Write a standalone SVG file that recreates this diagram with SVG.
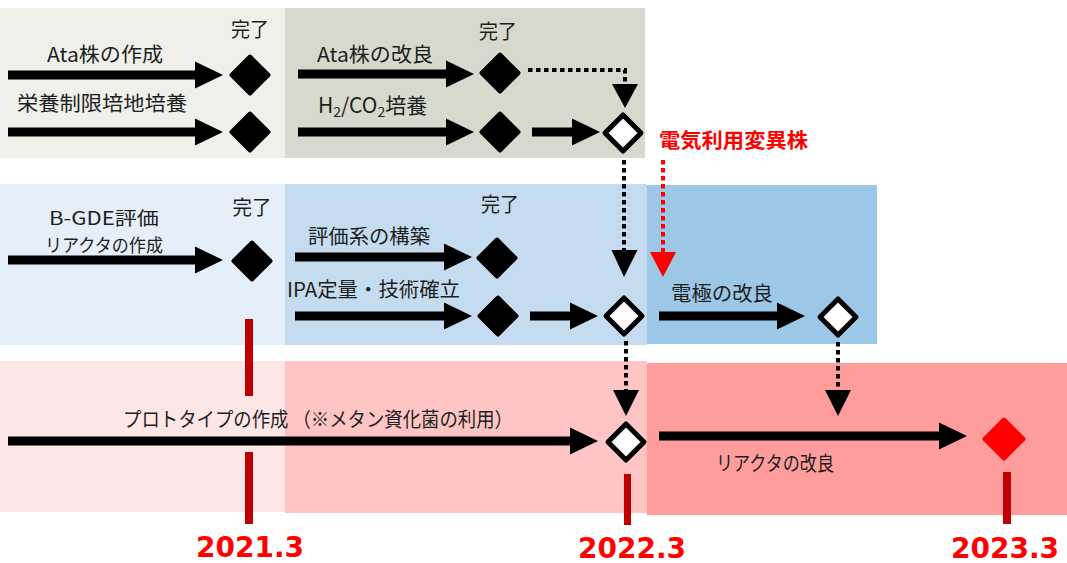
<svg xmlns="http://www.w3.org/2000/svg" width="1067" height="563" viewBox="0 0 1067 563">
<style>
.t{font-family:"Noto Sans CJK JP","Noto Sans",sans-serif;font-size:20px;fill:#1e1e1e;text-anchor:middle}
.yr{font-family:"DejaVu Sans",sans-serif;font-weight:bold;font-size:28px;fill:#ff0000;text-anchor:middle}
.arr{fill:#000}
.bd{fill:#000;stroke:#000;stroke-width:4;stroke-linejoin:round}
.wd{fill:#fff;stroke:#000;stroke-width:5;stroke-linejoin:round}
.dot{fill:none;stroke:#000;stroke-width:4;stroke-dasharray:4.5 3.5}
.bar{fill:#c00000}
</style>
<g id="panels">
<rect x="0" y="8" width="285" height="150" fill="#eef0e9"/>
<rect x="285" y="8" width="360" height="150" fill="#d6d9cb"/>
<rect x="0" y="184" width="285" height="161" fill="#e4eff9"/>
<rect x="285" y="184" width="362" height="161" fill="#c5dcf0"/>
<rect x="647" y="185" width="230" height="159" fill="#9dc7e6"/>
<rect x="0" y="361" width="285" height="151" fill="#fde6e6"/>
<rect x="285" y="361" width="362" height="152" fill="#ffc5c5"/>
<rect x="647" y="363" width="420" height="152" fill="#ff9c9c"/>
</g>
<g id="timeline">
<rect class="bar" x="245" y="319" width="8" height="77"/>
<rect class="bar" x="245" y="452" width="8" height="72"/>
<rect class="bar" x="624" y="474" width="7" height="51"/>
<rect class="bar" x="1003" y="472" width="8" height="52"/>
<text class="yr" x="250" y="557">2021.3</text>
<text class="yr" x="632" y="557.5">2022.3</text>
<text class="yr" x="1005" y="557.5">2023.3</text>
</g>
<g id="connectors">
<path class="arr" d="M8 70.5H195V61.5L223 75L195 88.5V79.5H8Z"/>
<path class="arr" d="M8 127.5H195V118.5L223 132L195 145.5V136.5H8Z"/>
<path class="arr" d="M298 69.5H446V60.5L474 74L446 87.5V78.5H298Z"/>
<path class="arr" d="M298 127.5H446V118.5L474 132L446 145.5V136.5H298Z"/>
<path class="arr" d="M532 127.5H572V118.5L600 132L572 145.5V136.5H532Z"/>
<path class="arr" d="M8 255.5H195V246.5L223 260L195 273.5V264.5H8Z"/>
<path class="arr" d="M295 252.5H444V243.5L472 257L444 270.5V261.5H295Z"/>
<path class="arr" d="M295 311.5H444V302.5L472 316L444 329.5V320.5H295Z"/>
<path class="arr" d="M530 311.5H570V302.5L598 316L570 329.5V320.5H530Z"/>
<path class="arr" d="M659 311.5H777V302.5L805 316L777 329.5V320.5H659Z"/>
<path class="arr" d="M8 436.5H570V427.5L598 441L570 454.5V445.5H8Z"/>
<path class="arr" d="M659 431.5H939V422.5L967 436L939 449.5V440.5H659Z"/>
<path class="dot" d="M528 70H625V84"/>
<path class="arr" d="M612 84H638L625 108Z"/>
<path class="dot" d="M624 160V250"/>
<path class="arr" d="M611.5 250H637.5L624 277Z"/>
<path class="dot" d="M663 160V252" style="stroke:#ff0000"/>
<path d="M650 252H676L663 277Z" fill="#ff0000"/>
<path class="dot" d="M626 341V390"/>
<path class="arr" d="M613 390H639L626 416Z"/>
<path class="dot" d="M838 342V390"/>
<path class="arr" d="M825 390H851L838 416Z"/>
</g>
<g id="labels">
<text class="t" x="105" y="62" textLength="116" lengthAdjust="spacingAndGlyphs">Ata株の作成</text>
<text class="t" x="102" y="111" textLength="170" lengthAdjust="spacingAndGlyphs">栄養制限培地培養</text>
<text class="t" x="375" y="62" textLength="116" lengthAdjust="spacingAndGlyphs">Ata株の改良</text>
<text class="t" x="318" y="113" style="text-anchor:start;font-size:21px">H<tspan font-size="14" dy="4">2</tspan><tspan dy="-4">/CO</tspan><tspan font-size="14" dy="4">2</tspan><tspan dy="-4">培養</tspan></text>
<text class="t" x="104" y="225" textLength="110" lengthAdjust="spacingAndGlyphs" style="font-size:18.5px">B-GDE評価</text>
<text class="t" x="104" y="252" textLength="118" lengthAdjust="spacingAndGlyphs" style="font-size:18.5px">リアクタの作成</text>
<text class="t" x="369" y="244" textLength="122" lengthAdjust="spacingAndGlyphs">評価系の構築</text>
<text class="t" x="373.5" y="297" textLength="173" lengthAdjust="spacingAndGlyphs">IPA定量・技術確立</text>
<text class="t" x="722" y="301" textLength="102" lengthAdjust="spacingAndGlyphs">電極の改良</text>
<text class="t" x="733.5" y="148" textLength="149" lengthAdjust="spacingAndGlyphs" style="fill:#ff0000;font-weight:bold">電気利用変異株</text>
<text class="t" x="318" y="427" textLength="390" lengthAdjust="spacingAndGlyphs">プロトタイプの作成 （※メタン資化菌の利用）</text>
<text class="t" x="775" y="471" textLength="118" lengthAdjust="spacingAndGlyphs">リアクタの改良</text>
</g>
<g id="m-ata-create">
<polygon class="bd" points="250,56.5 268.5,75 250,93.5 231.5,75"/>
<text class="t" x="250" y="37" textLength="38" lengthAdjust="spacingAndGlyphs">完了</text>
</g>
<g id="m-nutrient">
<polygon class="bd" points="250,113.5 268.5,132 250,150.5 231.5,132"/>
</g>
<g id="m-ata-improve">
<polygon class="bd" points="500,54.5 518.5,73 500,91.5 481.5,73"/>
<text class="t" x="498" y="38.5" textLength="38" lengthAdjust="spacingAndGlyphs">完了</text>
</g>
<g id="m-h2co2">
<polygon class="bd" points="500,113.5 518.5,132 500,150.5 481.5,132"/>
</g>
<g id="m-strain">
<polygon class="wd" points="623,115 641,133 623,151 605,133"/>
</g>
<g id="m-bgde">
<polygon class="bd" points="252,242.5 270.5,261 252,279.5 233.5,261"/>
<text class="t" x="252" y="215" textLength="39" lengthAdjust="spacingAndGlyphs">完了</text>
</g>
<g id="m-eval">
<polygon class="bd" points="497,239.5 515.5,258 497,276.5 478.5,258"/>
<text class="t" x="500" y="212" textLength="38" lengthAdjust="spacingAndGlyphs">完了</text>
</g>
<g id="m-ipa">
<polygon class="bd" points="498,297.5 516.5,316 498,334.5 479.5,316"/>
</g>
<g id="m-bgde-2022">
<polygon class="wd" points="624,298 642,316 624,334 606,316"/>
</g>
<g id="m-electrode">
<polygon class="wd" points="838,299 856,317 838,335 820,317"/>
</g>
<g id="m-proto-2022">
<polygon class="wd" points="626,424 644,442 626,460 608,442"/>
</g>
<g id="m-reactor-2023">
<polygon points="1004,419.5 1023.5,439 1004,458.5 984.5,439" fill="#ff0000" stroke="#ff0000" stroke-width="4" stroke-linejoin="round"/>
</g>
</svg>
